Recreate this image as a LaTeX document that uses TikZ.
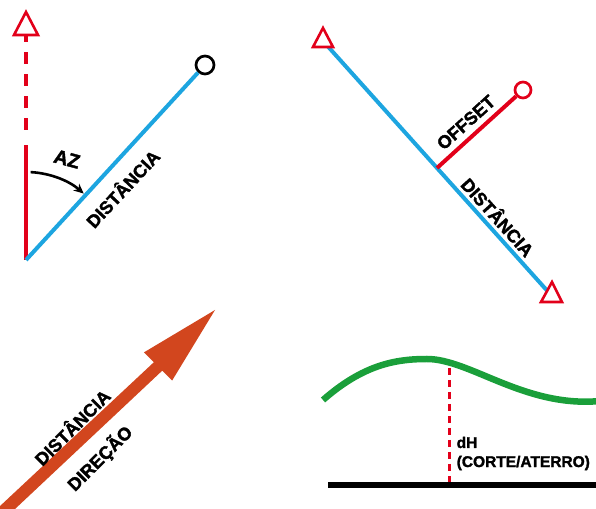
\documentclass[tikz,border=0pt]{standalone}
\usepackage{fontspec}
\setmainfont{Liberation Sans}
\newfontfamily\heavy{Liberation Sans}[BoldFeatures={FakeBold=1.8}]
\usetikzlibrary{arrows.meta}
\definecolor{rd}{HTML}{E2001A}
\definecolor{bl}{HTML}{1DA5E0}
\definecolor{gr}{HTML}{1A9F3A}
\definecolor{ar}{HTML}{D2461E}
\begin{document}
\begin{tikzpicture}[x=1pt,y=1pt,
  lbl/.style={font=\heavy\bfseries\fontsize{18}{21}\selectfont, inner sep=0pt},
  sml/.style={font=\heavy\bfseries\fontsize{15.5}{19}\selectfont, inner sep=0pt, anchor=base west},
  tri/.style={draw=rd, line width=2.6pt, fill=white, line join=miter},
  bline/.style={bl, line width=4pt},
  rline/.style={rd, line width=4pt},
  ring/.style={circle, line width=2.7pt, fill=white, inner sep=0pt}]
\useasboundingbox (0,0) rectangle (596,508);
\clip (0,0) rectangle (596,508);

% ---------- top left ----------
\coordinate (o1) at (26,248);
\coordinate (r1) at (26,363);
\coordinate (d1a) at (26,378);
\coordinate (d1b) at (26,472);
\coordinate (t1a) at (14,473);
\coordinate (t1b) at (26,496);
\coordinate (t1c) at (38,473);
\draw[rline] (o1) -- (r1);
\draw[rline, dash pattern=on 12pt off 10pt] (d1a) -- (d1b);
\draw[tri] (t1a) -- (t1b) -- (t1c) -- cycle;
\node[ring, draw=black, minimum size=18pt] (c1) at (205,443) {};
\draw[bline] (o1) -- (c1);
\draw[black, line width=2.6pt, -{Stealth[length=10pt,width=9pt]}]
  ([shift={(87:88)}]o1) arc[start angle=87, end angle=49, radius=88];
\node[lbl, font=\heavy\bfseries\fontsize{19.5}{22}\selectfont, rotate=-15] (az) at (67,349) {AZ};
\node[lbl, rotate=47] (dist1) at (122,320) {DISTÂNCIA};

% ---------- top right ----------
\coordinate (p2a) at (323,467);
\coordinate (p2b) at (551,213);
\coordinate (f2) at (437,340);
\draw[bline] (p2a) -- (p2b);
\draw[tri] (313,461) -- (323,480) -- (333,461) -- cycle;
\draw[tri] (541,206) -- (552,226) -- (562,206) -- cycle;
\node[ring, draw=rd, minimum size=16pt] (c2) at (523,418) {};
\draw[rline] (f2) -- (c2);
\node[lbl, rotate=42] (off) at (466,385.5) {OFFSET};
\node[lbl, rotate=-48] (dist2) at (498.5,291.5) {DISTÂNCIA};

% ---------- bottom left ----------
\fill[ar] (-4,-1.8) -- (153.8,145.7) -- (143.9,155.6) -- (215,198)
  -- (172.1,127.4) -- (162.2,137.3) -- (4.8,-10.6) -- cycle;
\node[lbl, rotate=45] (dist3) at (71.5,81.5) {DISTÂNCIA};
\node[lbl, rotate=45] (dir3) at (100,49.5) {DIREÇÃO};

% ---------- bottom right ----------
\coordinate (g0) at (323,108);
\coordinate (gp) at (427,149);
\coordinate (g1) at (600,107);
\draw[gr, line width=6.5pt] (g0) .. controls (363,143) and (395,149) .. (gp)
  .. controls (470,149) and (525,100) .. (g1);
\coordinate (h0) at (449,140);
\coordinate (h1) at (449,26);
\draw[rd, line width=3pt, dash pattern=on 7pt off 5pt] (h0) -- (h1);
\coordinate (k0) at (328,23);
\coordinate (k1) at (596,23);
\draw[black, line width=6.5pt] (k0) -- (k1);
\node[sml] (dh) at (456.5,60) {dH};
\node[sml] (ct) at (456.5,41) {(CORTE/ATERRO)};
\end{tikzpicture}
\end{document}
